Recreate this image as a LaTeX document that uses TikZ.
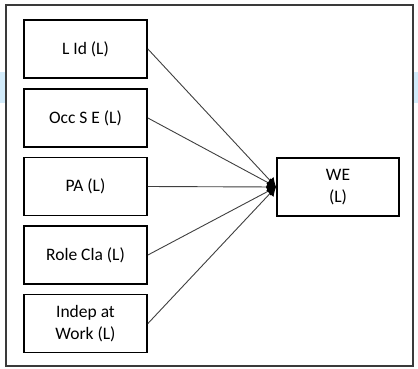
\documentclass[tikz,border=0pt]{standalone}
\usepackage{fontspec}
\setmainfont{Carlito}
\usetikzlibrary{arrows.meta}
\definecolor{bandblue}{HTML}{D2EBFA}
\definecolor{framegray}{HTML}{3A3A3A}
\definecolor{linkgray}{HTML}{404040}
\tikzset{
  varbox/.style={draw=black, line width=1.8pt, minimum width=123pt, minimum height=58pt,
    align=center, inner sep=0pt, font=\fontsize{17.5}{22}\selectfont},
  link/.style={draw=linkgray, line width=0.9pt,
    -{Latex[length=9pt,width=10pt,black]}},
}
\begin{document}
\begin{tikzpicture}[x=1pt,y=-1pt]
  % canvas and side bands
  \fill[white] (0,0) rectangle (418,368);
  \useasboundingbox (0,0) rectangle (418,368);
  \fill[bandblue] (0,72) rectangle (4.5,103);
  \fill[bandblue] (414,72) rectangle (418,103);
  % outer frame
  \draw[framegray, line width=2pt] (6,5) rectangle (413,366);

  % predictor boxes
  \node[varbox] (lid)   at (85.5,49)    {L Id (L)};
  \node[varbox] (occ)   at (85.5,118)   {Occ S E (L)};
  \node[varbox] (pa)    at (85.5,186.5) {PA (L)};
  \node[varbox] (role)  at (85.5,255)   {Role Cla (L)};
  \node[varbox] (indep) at (85.5,323.5) {Indep at\\Work (L)};

  % outcome box
  \node[varbox, minimum width=122pt] (we) at (338,187) {WE\\(L)};

  % paths into the outcome
  \foreach \src in {lid,occ,pa,role,indep}
    \draw[link] (\src.east) -- (we.west);
\end{tikzpicture}
\end{document}
